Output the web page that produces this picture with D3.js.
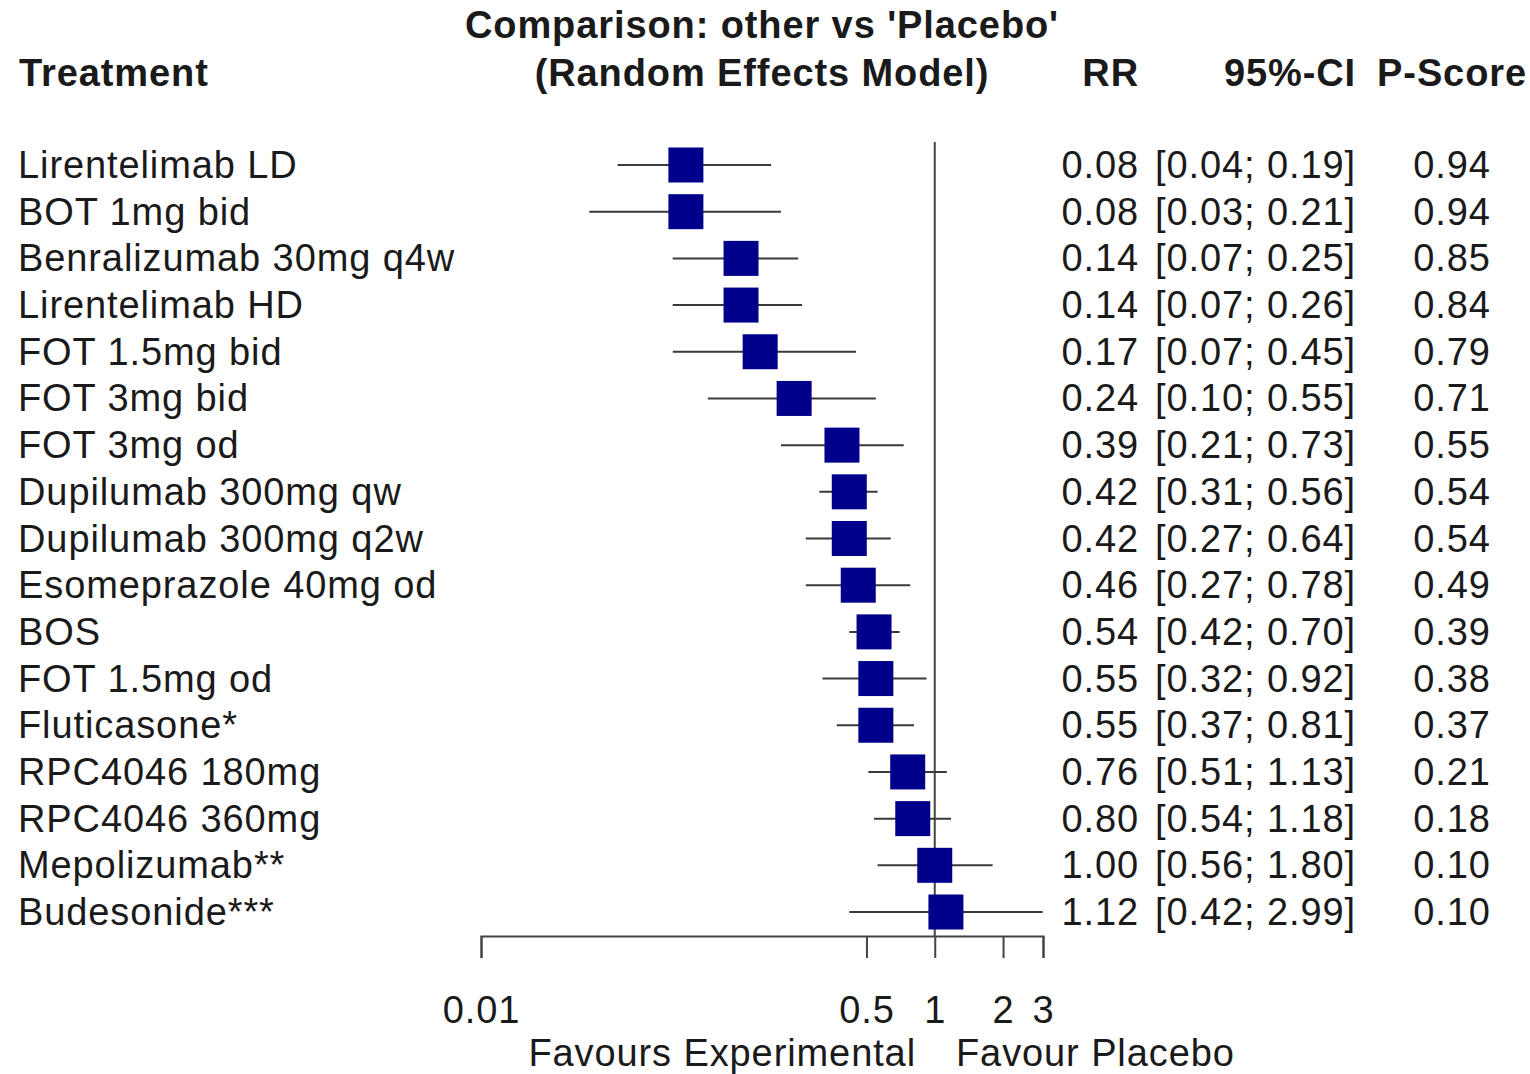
<!DOCTYPE html>
<html>
<head>
<meta charset="utf-8">
<script src="https://cdn.jsdelivr.net/npm/d3@7"></script>
<style>
  body { margin: 0; background: #fff; }
  text { font-family: "Liberation Sans", Arial, sans-serif; fill: #1a1a1a; letter-spacing: 0.9px; }
</style>
</head>
<body>
<svg id="chart" width="1530" height="1074"></svg>
<script>
var treatments = ["Lirentelimab LD", "BOT 1mg bid", "Benralizumab 30mg q4w", "Lirentelimab HD",
  "FOT 1.5mg bid", "FOT 3mg bid", "FOT 3mg od", "Dupilumab 300mg qw", "Dupilumab 300mg q2w",
  "Esomeprazole 40mg od", "BOS", "FOT 1.5mg od", "Fluticasone*", "RPC4046 180mg",
  "RPC4046 360mg", "Mepolizumab**", "Budesonide***"];
var rr = [0.08, 0.08, 0.14, 0.14, 0.17, 0.24, 0.39, 0.42, 0.42, 0.46, 0.54, 0.55, 0.55, 0.76, 0.80, 1.00, 1.12];
var lower = [0.04, 0.03, 0.07, 0.07, 0.07, 0.10, 0.21, 0.31, 0.27, 0.27, 0.42, 0.32, 0.37, 0.51, 0.54, 0.56, 0.42];
var upper = [0.19, 0.21, 0.25, 0.26, 0.45, 0.55, 0.73, 0.56, 0.64, 0.78, 0.70, 0.92, 0.81, 1.13, 1.18, 1.80, 2.99];
var pscore = [0.94, 0.94, 0.85, 0.84, 0.79, 0.71, 0.55, 0.54, 0.54, 0.49, 0.39, 0.38, 0.37, 0.21, 0.18, 0.10, 0.10];
var tickValues = [0.01, 0.5, 1, 2, 3];

var svg = d3.select("#chart");
var fs = 38;

var x = d3.scaleLog().domain([0.01, 3]).range([481, 1043]);
var y = d3.scalePoint().domain(d3.range(treatments.length)).range([165, 912]);

var data = treatments.map(function(t, i) {
  return { name: t, rr: rr[i], lo: lower[i], hi: upper[i], p: pscore[i] };
});

// headers
svg.append("text").attr("x", 762).attr("y", 38).attr("text-anchor", "middle")
  .attr("font-size", fs).attr("font-weight", "bold").text("Comparison: other vs 'Placebo'");
svg.append("text").attr("x", 762).attr("y", 86).attr("text-anchor", "middle")
  .attr("font-size", fs).attr("font-weight", "bold").text("(Random Effects Model)");
svg.append("text").attr("x", 19).attr("y", 86)
  .attr("font-size", fs).attr("font-weight", "bold").text("Treatment");
svg.append("text").attr("x", 1139).attr("y", 86).attr("text-anchor", "end")
  .attr("font-size", fs).attr("font-weight", "bold").text("RR");
svg.append("text").attr("x", 1356).attr("y", 86).attr("text-anchor", "end")
  .attr("font-size", fs).attr("font-weight", "bold").text("95%-CI");
svg.append("text").attr("x", 1527).attr("y", 86).attr("text-anchor", "end")
  .attr("font-size", fs).attr("font-weight", "bold").text("P-Score");

// reference line
svg.append("line")
  .attr("x1", x(1)).attr("x2", x(1))
  .attr("y1", 142).attr("y2", 936)
  .attr("stroke", "#444").attr("stroke-width", 2);

var rows = svg.selectAll("g.row").data(data).enter().append("g").attr("class", "row")
  .attr("transform", function(d, i) { return "translate(0," + y(i) + ")"; });

rows.append("line")
  .attr("x1", function(d) { return x(d.lo); })
  .attr("x2", function(d) { return x(d.hi); })
  .attr("stroke", "#3a3a3a").attr("stroke-width", 2);

var sq = 35;
rows.append("rect")
  .attr("x", function(d) { return x(d.rr) - sq / 2; })
  .attr("y", -sq / 2)
  .attr("width", sq).attr("height", sq)
  .attr("fill", "#00008b");

rows.append("text").attr("x", 18).attr("y", 13).attr("font-size", fs)
  .text(function(d) { return d.name; });
rows.append("text").attr("x", 1139).attr("y", 13).attr("font-size", fs).attr("text-anchor", "end")
  .text(function(d) { return d.rr.toFixed(2); });
rows.append("text").attr("x", 1356).attr("y", 13).attr("font-size", fs).attr("text-anchor", "end")
  .text(function(d) { return "[" + d.lo.toFixed(2) + "; " + d.hi.toFixed(2) + "]"; });
rows.append("text").attr("x", 1452).attr("y", 13).attr("font-size", fs).attr("text-anchor", "middle")
  .text(function(d) { return d.p.toFixed(2); });

// x axis
var axis = svg.append("g").attr("transform", "translate(0,936)")
  .call(d3.axisBottom(x).tickValues(tickValues).tickSize(22).tickPadding(38)
    .tickFormat(function(d) { return String(d); }));
axis.select(".domain").attr("stroke", "#444").attr("stroke-width", 2);
axis.selectAll(".tick line").attr("stroke", "#444").attr("stroke-width", 2);
axis.selectAll(".tick text").attr("font-size", fs).attr("font-family", "Liberation Sans, Arial, sans-serif")
  .attr("fill", "#1a1a1a");

svg.append("text").attr("x", 916).attr("y", 1066).attr("text-anchor", "end")
  .attr("font-size", fs).text("Favours Experimental");
svg.append("text").attr("x", 956).attr("y", 1066)
  .attr("font-size", fs).text("Favour Placebo");
</script>
</body>
</html>
